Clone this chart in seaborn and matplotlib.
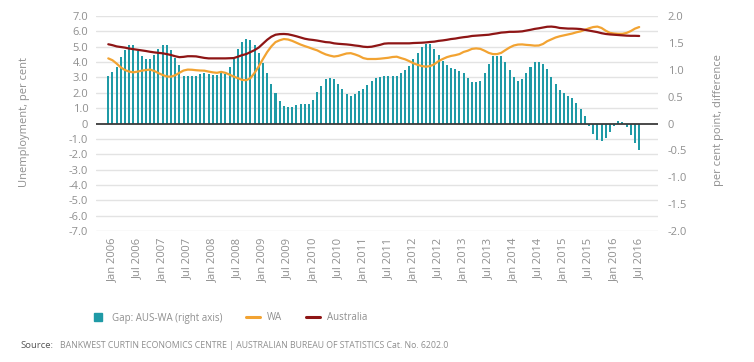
import numpy as np
import pandas as pd
import matplotlib
matplotlib.use("Agg")
import matplotlib.pyplot as plt
import seaborn as sns
from matplotlib.lines import Line2D

# ---------------- data (monthly, Dec 2005 .. Jul 2016) ----------------
months = pd.period_range("2005-12", "2016-07", freq="M")

gap = [0.89, 0.96, 1.06, 1.23, 1.37, 1.46, 1.46, 1.35, 1.26, 1.20,
       1.20, 1.28, 1.38, 1.46, 1.46, 1.37, 1.22, 1.09, 0.89, 0.89,
       0.89, 0.89, 0.93, 0.94, 0.93, 0.91, 0.91, 0.94, 0.93, 1.06,
       1.20, 1.38, 1.52, 1.58, 1.56, 1.46, 1.32, 1.12, 0.94, 0.74,
       0.57, 0.41, 0.32, 0.30, 0.30, 0.35, 0.37, 0.37, 0.37, 0.43,
       0.58, 0.70, 0.83, 0.85, 0.83, 0.74, 0.65, 0.54, 0.52, 0.54,
       0.61, 0.65, 0.72, 0.79, 0.85, 0.86, 0.89, 0.89, 0.89, 0.89,
       0.94, 1.00, 1.07, 1.20, 1.31, 1.42, 1.47, 1.48, 1.38, 1.28,
       1.17, 1.09, 1.04, 1.02, 0.98, 0.94, 0.85, 0.78, 0.77, 0.80,
       0.94, 1.11, 1.26, 1.26, 1.26, 1.15, 1.00, 0.86, 0.80, 0.83,
       0.94, 1.05, 1.14, 1.15, 1.11, 1.02, 0.86, 0.74, 0.63, 0.57,
       0.52, 0.47, 0.38, 0.27, 0.14, -0.04, -0.20, -0.31, -0.33, -0.27,
       -0.16, -0.04, 0.04, 0.02, -0.06, -0.22, -0.37, -0.50]

wa = [4.24, 4.12, 3.90, 3.65, 3.48, 3.38, 3.33, 3.38, 3.44, 3.48,
      3.51, 3.42, 3.28, 3.16, 3.06, 3.05, 3.14, 3.30, 3.45, 3.51,
      3.50, 3.47, 3.45, 3.44, 3.38, 3.33, 3.30, 3.36, 3.30, 3.18,
      3.06, 2.95, 2.84, 2.82, 2.95, 3.30, 3.72, 4.20, 4.65, 5.02,
      5.30, 5.42, 5.50, 5.47, 5.38, 5.26, 5.14, 5.04, 4.95, 4.85,
      4.76, 4.62, 4.50, 4.42, 4.36, 4.40, 4.48, 4.56, 4.58, 4.50,
      4.40, 4.26, 4.20, 4.20, 4.20, 4.22, 4.25, 4.28, 4.33, 4.35,
      4.26, 4.18, 4.06, 3.92, 3.82, 3.74, 3.70, 3.74, 3.86, 4.06,
      4.20, 4.32, 4.40, 4.45, 4.52, 4.66, 4.74, 4.86, 4.89, 4.86,
      4.74, 4.60, 4.52, 4.52, 4.60, 4.78, 4.95, 5.08, 5.14, 5.15,
      5.12, 5.10, 5.07, 5.08, 5.18, 5.36, 5.48, 5.60, 5.68, 5.74,
      5.80, 5.86, 5.94, 6.00, 6.10, 6.20, 6.28, 6.31, 6.22, 6.04,
      5.90, 5.86, 5.84, 5.84, 5.90, 6.02, 6.18, 6.28]

australia = [5.16, 5.10, 5.02, 4.98, 4.94, 4.88, 4.84, 4.80, 4.76, 4.72,
             4.67, 4.63, 4.60, 4.57, 4.52, 4.46, 4.38, 4.32, 4.34, 4.38,
             4.38, 4.37, 4.32, 4.27, 4.24, 4.24, 4.24, 4.24, 4.24, 4.25,
             4.26, 4.35, 4.45, 4.52, 4.65, 4.78, 4.95, 5.20, 5.45, 5.65,
             5.78, 5.82, 5.83, 5.81, 5.75, 5.68, 5.60, 5.52, 5.47, 5.44,
             5.40, 5.35, 5.30, 5.28, 5.22, 5.19, 5.17, 5.15, 5.12, 5.08,
             5.05, 5.00, 4.98, 5.00, 5.06, 5.12, 5.20, 5.22, 5.22, 5.22,
             5.22, 5.22, 5.22, 5.24, 5.25, 5.26, 5.28, 5.31, 5.33, 5.38,
             5.41, 5.45, 5.50, 5.53, 5.58, 5.62, 5.65, 5.70, 5.72, 5.74,
             5.76, 5.78, 5.83, 5.87, 5.92, 5.94, 5.97, 5.97, 5.98, 6.00,
             6.05, 6.10, 6.16, 6.20, 6.25, 6.30, 6.31, 6.28, 6.22, 6.20,
             6.18, 6.18, 6.17, 6.15, 6.10, 6.05, 6.00, 5.95, 5.88, 5.83,
             5.80, 5.78, 5.76, 5.74, 5.72, 5.71, 5.71, 5.70]

tick_labels = ["Jan 2006", "Jul 2006", "Jan 2007", "Jul 2007", "Jan 2008",
               "Jul 2008", "Jan 2009", "Jul 2009", "Jan 2010", "Jul 2010",
               "Jan 2011", "Jul 2011", "Jan 2012", "Jul 2012", "Jan 2013",
               "Jul 2013", "Jan 2014", "Jul 2014", "Jan 2015", "Jul 2015",
               "Jan 2016", "Jul 2016"]

left_ticks = [7, 6, 5, 4, 3, 2, 1, 0, -1, -2, -3, -4, -5, -6, -7]
right_ticks = [2.0, 1.5, 1.0, 0.5, 0, -0.5, -1.0, -1.5, -2.0]

legend_labels = ["Gap: AUS-WA (right axis)", "WA", "Australia"]
source_head = "Source:"
source_text = ("BANKWEST CURTIN ECONOMICS CENTRE | AUSTRALIAN BUREAU OF "
               "STATISTICS Cat. No. 6202.0")

# ---------------- styling ----------------
TEAL = "#1f9aa6"
ORANGE = "#f2a332"
DARKRED = "#8e1515"
GRID = "#e3e3e3"
TXT = "#8f8f8f"

sns.set_theme(style="white")
plt.rcParams["font.family"] = ["Open Sans", "DejaVu Sans"]

W, H = 754, 362
fig = plt.figure(figsize=(W / 100, H / 100), dpi=100)
L, R, T, B = 96, 658, 16, 231
ax = fig.add_axes([L / W, 1 - B / H, (R - L) / W, (B - T) / H])
ax2 = ax.twinx()

df = pd.DataFrame({
    "idx": np.arange(len(months)),
    "month": months.strftime("%b %Y"),
    "gap": gap, "wa": wa, "aus": australia,
})

# bars on right scale
sns.barplot(data=df, x="idx", y="gap", native_scale=True, ax=ax2,
            color=TEAL, saturation=1, width=0.48, errorbar=None,
            linewidth=0, zorder=2)

# gridlines (at left-axis ticks) drawn behind bars on ax2
ratio = 7 / 2
for v in left_ticks:
    if v != 0:
        ax2.axhline(v / ratio, color=GRID, lw=1.0, zorder=0)

# lines on left scale, axis drawn in front
ax.set_zorder(ax2.get_zorder() + 1)
ax.patch.set_visible(False)
sns.lineplot(data=df, x="idx", y="wa", ax=ax, color=ORANGE, lw=1.6)
sns.lineplot(data=df, x="idx", y="aus", ax=ax, color=DARKRED, lw=1.6)
ax.axhline(0, color="#3a3a3a", lw=1.3, zorder=1)

# axes limits & ticks
ax.set_ylim(-7, 7)
ax2.set_ylim(-2, 2)
ax.set_xlim(-2.94, 131.5)

ax.set_yticks(left_ticks)
ax.set_yticklabels(["0" if v == 0 else f"{v:.1f}" for v in left_ticks])
ax2.set_yticks(right_ticks)
ax2.set_yticklabels(["0" if v == 0 else f"{v:.1f}" for v in right_ticks])

lab_pos = [list(df["month"]).index(t) for t in tick_labels]
ax.set_xticks(lab_pos)
ax.set_xticklabels(tick_labels, rotation=90)
ax.xaxis.set_visible(True)
ax2.tick_params(axis="x", bottom=False, labelbottom=False,
                top=False, labeltop=False)

for a in (ax, ax2):
    for s in a.spines.values():
        s.set_visible(False)
    a.set_xlabel("")
    a.set_ylabel("")
ax.tick_params(axis="y", length=0, pad=5.5, labelsize=8, labelcolor=TXT)
ax2.tick_params(axis="y", length=0, pad=7, labelsize=8, labelcolor=TXT)
ax.tick_params(axis="x", length=0, pad=5, labelsize=8, labelcolor=TXT,
               labelbottom=True)
ax.grid(False)
ax2.grid(False)

fig.text(25 / W, 1 - 121.5 / H, "Unemployment, per cent", rotation=90,
         ha="center", va="center", fontsize=8, color=TXT)
fig.text(719 / W, 1 - 120 / H, "per cent point, difference", rotation=90,
         ha="center", va="center", fontsize=8, color=TXT)

handles = [
    Line2D([], [], marker="s", linestyle="none", markersize=6.0,
           markerfacecolor=TEAL, markeredgecolor=TEAL),
    Line2D([], [], color=ORANGE, lw=2.2),
    Line2D([], [], color=DARKRED, lw=2.2),
]
leg = fig.legend(handles, legend_labels, loc="center",
                 bbox_to_anchor=(229 / W, 1 - 318 / H), ncol=3,
                 frameon=False, fontsize=7.0, handlelength=1.5,
                 handletextpad=0.7, columnspacing=2.4)
for t in leg.get_texts():
    t.set_color(TXT)

fig.text(20 / W, 1 - 345.5 / H, source_head, ha="left", va="center",
         fontsize=6.8, color="#555555")
fig.text(60 / W, 1 - 345.5 / H, source_text, ha="left", va="center",
         fontsize=6.3, color=TXT)

fig.savefig("out.png", dpi=100)
